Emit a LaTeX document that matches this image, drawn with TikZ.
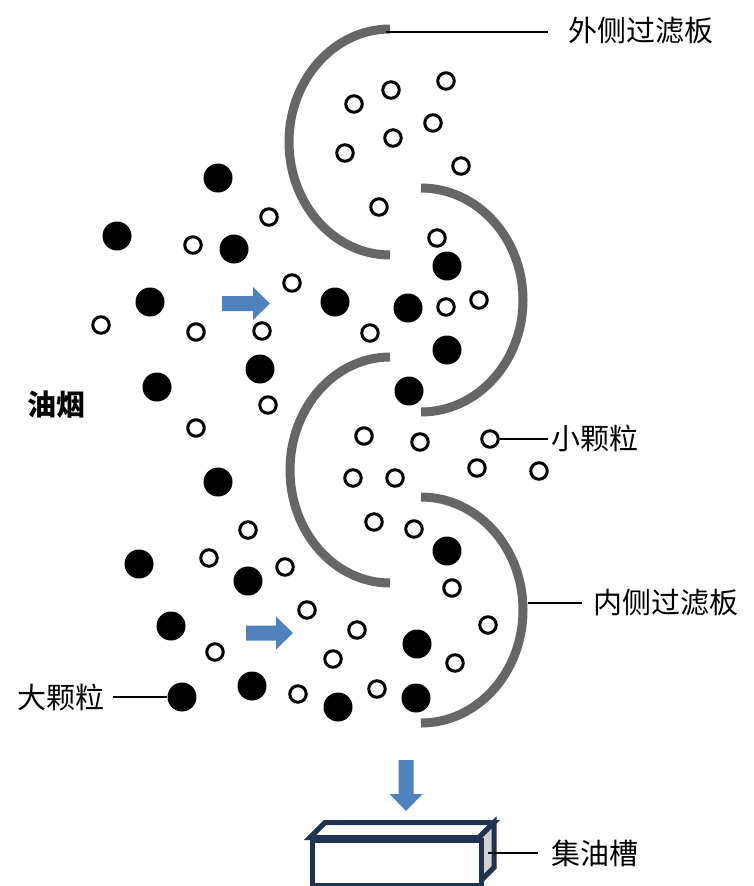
\documentclass[tikz,border=0pt]{standalone}
\usepackage{fontspec}
\newfontfamily\cjk{Noto Sans CJK SC}
\definecolor{filtergray}{RGB}{102,102,102}
\definecolor{flowblue}{RGB}{79,129,189}
\definecolor{tankline}{RGB}{31,50,80}
\definecolor{tankside}{RGB}{210,210,210}
\tikzset{
  bigdrop/.style={circle,fill=black,inner sep=0pt,minimum size=29pt},
  smalldrop/.style={circle,draw=black,line width=3pt,fill=white,inner sep=0pt,minimum size=16.5pt},
  filter/.style={draw=filtergray,line width=9pt},
  leader/.style={draw=black,line width=1.4pt},
  caption/.style={font=\cjk\fontsize{29}{32}\selectfont,inner sep=0pt},
  tank/.style={draw=tankline,line width=5pt,line join=miter},
  flowarrow/.pic={\fill[flowblue] (0,-7.5) -- (#1-17,-7.5) -- (#1-17,-16.5) -- (#1,0)
      -- (#1-17,16.5) -- (#1-17,7.5) -- (0,7.5) -- cycle;}
}
\begin{document}
\begin{tikzpicture}[x=1pt,y=-1pt]
\useasboundingbox (0,0) rectangle (753,886);

% filter plates: two outer (opening right) and two inner (opening left)
\draw[filter] (390,29)  arc[start angle=90,end angle=270,x radius=101pt,y radius=113pt];
\draw[filter] (421,188) arc[start angle=90,end angle=-90,x radius=102pt,y radius=112pt];
\draw[filter] (390,357) arc[start angle=90,end angle=270,x radius=100pt,y radius=113pt];
\draw[filter] (421,497) arc[start angle=90,end angle=-90,x radius=102pt,y radius=113pt];
\coordinate (outertip) at (386,32);
\coordinate (innertip) at (528,603);

% small oil particles
\foreach \px/\py [count=\i] in {
  391/90, 446/81, 354/104, 433/123, 393/138, 345/153, 461/166, 379/207,
  269/217, 437/238, 193/245, 292/283, 446/307, 479/300, 101/325, 196/332,
  262/331, 370/333, 268/405, 196/428, 364/436, 420/442, 353/478, 395/478,
  477/468, 539/471, 374/522, 414/529, 248/530, 209/558, 285/567, 452/588,
  307/610, 357/630, 488/625, 215/652, 333/659, 455/663, 298/694, 377/689}
  \node[smalldrop] (s\i) at (\px,\py) {};
\node[smalldrop] (smallref) at (490,439) {};

% large oil particles
\foreach \px/\py [count=\i] in {
  218/178, 117/236, 234/249, 447/266, 150/302, 335/302, 408/308, 447/350,
  260/369, 157/387, 409/391, 218/482, 447/551, 139/564, 248/581, 171/626,
  417/644, 252/686, 338/707, 416/698}
  \node[bigdrop] (b\i) at (\px,\py) {};
\node[bigdrop] (bigref) at (182,697) {};

% flow arrows
\pic at (222,303.5) {flowarrow=48};
\pic at (246,633) {flowarrow=47};
\pic[rotate=-90] at (406,760) {flowarrow=51};

% oil collecting tank
\draw[tank,fill=white] (310,837.5) -- (325,822.5) -- (494,822.5) -- (479,837.5) -- cycle;
\draw[tank,fill=tankside] (479,837.5) -- (494,822.5) -- (494,867.5) -- (479,882.5) -- cycle;
\node[tank,fill=white,rectangle,inner sep=0pt,minimum width=169pt,minimum height=45pt,anchor=north west]
  (tank) at (310,837.5) {};
\coordinate (tanktip) at (488,853);

% captions
\node[caption,anchor=west] (outerlbl) at (568,31) {外侧过滤板};
\node[caption,anchor=west] (smalllbl) at (551,438) {小颗粒};
\node[caption,anchor=west] (innerlbl) at (593,603) {内侧过滤板};
\node[caption,anchor=east] (biglbl) at (105,697) {大颗粒};
\node[caption,anchor=west] (tanklbl) at (551,853) {集油槽};
\node[caption,anchor=west,font=\cjk\bfseries\fontsize{29}{32}\selectfont] (smoke) at (27,405) {油烟};

% leader lines
\draw[leader,shorten >=20pt] (outertip) -- (outertip -| outerlbl.west);
\draw[leader,shorten >=3pt] (smallref.east) -- (smallref.east -| smalllbl.west);
\draw[leader,shorten >=11pt] (innertip) -- (innertip -| innerlbl.west);
\draw[leader,shorten <=8pt] (biglbl.east |- bigref.west) -- (bigref.west);
\draw[leader,shorten >=13pt] (tanktip) -- (tanktip -| tanklbl.west);
\end{tikzpicture}
\end{document}
